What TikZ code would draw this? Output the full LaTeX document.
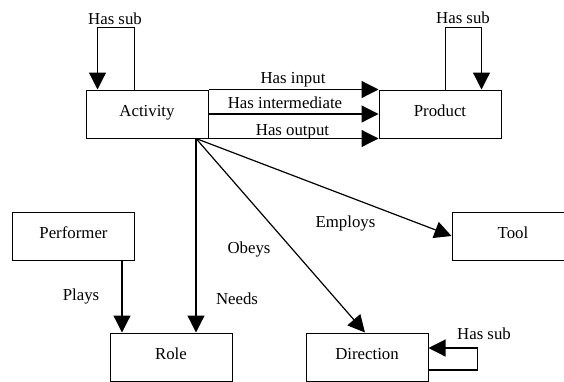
\documentclass[tikz,border=0pt]{standalone}
\usepackage{fontspec}
\setmainfont{Liberation Serif}
\newfontfamily\tms{Liberation Serif}
\usetikzlibrary{arrows.meta}
\begin{document}
\begin{tikzpicture}[x=1pt,y=-1pt,
  every node/.style={font=\tms\fontsize{16.8}{20}\selectfont},
  box/.style={draw,line width=1pt,minimum width=122pt,minimum height=48pt,inner sep=0pt,text height=0.68em,text depth=0.2em},
  lbl/.style={anchor=base,inner sep=0pt},
  arr/.style={line width=1.2pt,-{Triangle[length=17pt,width=17pt]}},
  ln/.style={line width=1.2pt}]
\clip (0,0) rectangle (564,381);
\fill[white] (0,0) rectangle (564,381);
\node[box] (act) at (147,114) {Activity};
\node[box] (prod) at (440,114) {Product};
\node[box] (perf) at (73.5,236.5) {Performer};
\node[box] (tool) at (513,236) {Tool};
\node[box] (role) at (171,357) {Role};
\node[box] (dir) at (367,357) {Direction};
% Activity has sub
\draw[arr] ([xshift=49pt]act.north west) -- ++(0,-62) -| ([xshift=12pt]act.north west);
\node[lbl] (asub) at (115,24) {Has sub};
% Product has sub
\draw[arr] ([xshift=67pt]prod.north west) -- ++(0,-62) -| ([xshift=103pt]prod.north west);
\node[lbl] (psub) at (463,23) {Has sub};
% Activity -> Product
\draw[arr] (act.north east) -- (prod.north west);
\draw[arr] (act.east) -- (prod.west);
\draw[arr] (act.south east) -- (prod.south west);
\node[lbl] (hin) at (293,83) {Has input};
\node[lbl] (hint) at (285,108) {Has intermediate};
\node[lbl] (hout) at (292.5,135) {Has output};
% Activity -> Role, Direction, Tool
\coordinate (as) at ([xshift=49pt]act.south);
\draw[arr] (as) -- (as |- role.north);
\draw[arr] (as) -- ([xshift=-2pt]dir.north);
\draw[arr] (as) -- (tool.west);
\node[lbl] (needs) at (237,304) {Needs};
\node[lbl] (obeys) at (249,253) {Obeys};
\node[lbl] (emp) at (345.5,227) {Employs};
% Performer -> Role
\draw[arr] ([xshift=48.5pt]perf.south) -- ([xshift=48.5pt]perf.south |- role.north);
\node[lbl] (plays) at (81,300) {Plays};
% Direction has sub
\draw[arr] ([yshift=-13pt]dir.east) -- ++(49,0) |- ([yshift=9pt]dir.east);
\node[lbl] (dsub) at (484,339) {Has sub};
\end{tikzpicture}
\end{document}
